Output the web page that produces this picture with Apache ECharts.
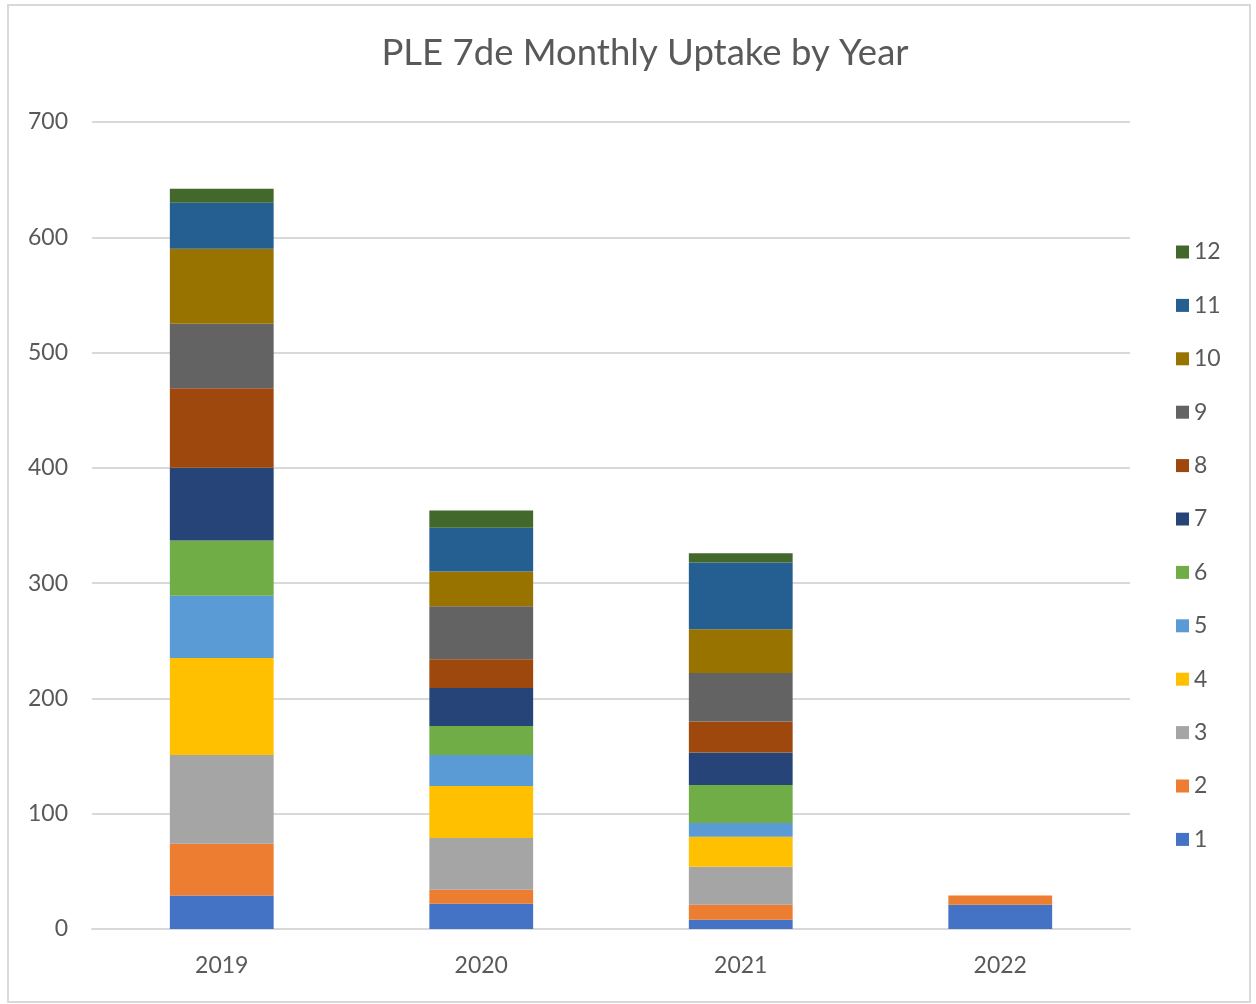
<!DOCTYPE html>
<html>
<head>
    <meta charset="utf-8">
    <title>PLE 7de Monthly Uptake by Year</title>
    <script src="https://cdn.jsdelivr.net/npm/echarts@6/dist/echarts.min.js"></script>
    <style>
        html, body { margin: 0; padding: 0; background: #fff; }
    </style>
</head>
<body>

<div id="main" style="width: 1256px;height:1004px;"></div>
<script type="text/javascript">
    // years on the x axis
    var years = ['2019', '2020', '2021', '2022'];
    // months = series names, legend shows them top-down 12..1
    var months = ['1', '2', '3', '4', '5', '6', '7', '8', '9', '10', '11', '12'];
    var colors = ['#4472C4', '#ED7D31', '#A5A5A5', '#FFC000', '#5B9BD5', '#70AD47',
                  '#264478', '#9E480E', '#636363', '#997300', '#255E91', '#43682B'];

    // uptake per month, one array per year
    var y2019 = [29, 45, 77, 84, 54, 48, 63, 69, 56, 65, 40, 12];
    var y2020 = [22, 12, 45, 45, 27, 25, 33, 25, 46, 30, 38, 15];
    var y2021 = [8, 13, 33, 26, 12, 33, 28, 27, 42, 38, 58, 8];
    var y2022 = [21, 8, null, null, null, null, null, null, null, null, null, null];

    var yTicks = { min: 0, max: 700, interval: 100 };

    var myChart = echarts.init(document.getElementById('main'));
    var font = 'Lato, "Open Sans", sans-serif';
    var txt = '#595959';

    var series = [];
    for (var i = 0; i < months.length; i++) {
        series.push({
            name: months[i],
            type: 'bar',
            stack: 'total',
            barWidth: '40%',
            itemStyle: { color: colors[i] },
            data: [y2019[i], y2020[i], y2021[i], y2022[i]]
        });
    }

    var option = {
        animation: false,
        title: {
            text: 'PLE 7de Monthly Uptake by Year',
            left: 640,
            top: 30,
            textAlign: 'center',
            textStyle: { fontFamily: font, fontSize: 36.5, fontWeight: 'normal', color: txt }
        },
        legend: {
            orient: 'vertical',
            left: 1176,
            top: 240,
            padding: 0,
            icon: 'rect',
            itemWidth: 13,
            itemHeight: 13,
            itemGap: 29.4,
            data: months.slice().reverse(),
            textStyle: { fontFamily: font, fontSize: 23, color: txt, lineHeight: 24 }
        },
        grid: { left: 92, right: 126, top: 122, bottom: 75 },
        xAxis: {
            type: 'category',
            data: years,
            axisLine: { lineStyle: { color: '#d9d9d9', width: 2 } },
            axisTick: { show: false },
            axisLabel: { fontFamily: font, fontSize: 23, color: txt, margin: 25 }
        },
        yAxis: {
            type: 'value',
            min: yTicks.min,
            max: yTicks.max,
            interval: yTicks.interval,
            axisLine: { show: false },
            axisTick: { show: false },
            axisLabel: { fontFamily: font, fontSize: 23, color: txt, margin: 24 },
            splitLine: { lineStyle: { color: '#d9d9d9', width: 2 } }
        },
        graphic: [{
            type: 'rect',
            shape: { x: 8, y: 5, width: 1242, height: 997 },
            style: { fill: 'none', stroke: '#d9d9d9', lineWidth: 2 },
            silent: true
        }],
        series: series
    };
    myChart.setOption(option);
</script>
</body>
</html>
